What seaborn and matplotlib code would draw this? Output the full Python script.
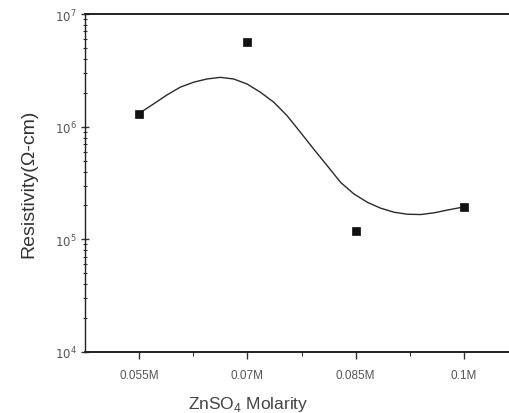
import matplotlib
matplotlib.use("Agg")
import matplotlib.pyplot as plt
import matplotlib.ticker as mticker
import numpy as np
import pandas as pd
import seaborn as sns

# Measured resistivity for each zinc sulfate concentration
molarity = [0.055, 0.07, 0.085, 0.1]
tick_labels = ["0.055M", "0.07M", "0.085M", "0.1M"]
resistivity = [1.30e6, 5.65e6, 1.19e5, 1.94e5]

# Smoothed trend line through the measurements
trend_x = [0.05500, 0.05560, 0.05699, 0.05885, 0.06069, 0.06254, 0.06440,
           0.06625, 0.06810, 0.06996, 0.07181, 0.07365, 0.07551, 0.07736,
           0.07921, 0.08107, 0.08292, 0.08476, 0.08663, 0.08847, 0.09032,
           0.09218, 0.09403, 0.09588, 0.09774, 0.10000]
trend_y = [1.30e6, 1.39e6, 1.59e6, 1.91e6, 2.24e6, 2.48e6, 2.65e6,
           2.74e6, 2.65e6, 2.39e6, 2.02e6, 1.65e6, 1.25e6, 8.9e5,
           6.3e5, 4.5e5, 3.2e5, 2.53e5, 2.13e5, 1.89e5, 1.74e5,
           1.67e5, 1.66e5, 1.72e5, 1.82e5, 1.94e5]

points = pd.DataFrame({"molarity": molarity, "resistivity": resistivity})
trend = pd.DataFrame({"molarity": trend_x, "resistivity": trend_y})

sns.set_theme(style="ticks")
plt.rcParams["font.family"] = ["Liberation Sans", "DejaVu Sans"]

W, H = 510, 414
fig = plt.figure(figsize=(W / 100, H / 100), dpi=100)
ax = fig.add_axes([85 / W, 1 - 353 / H, (510 - 85) / W, (353 - 15) / H])

sns.lineplot(data=trend, x="molarity", y="resistivity", sort=False,
             color="#2a2a2a", linewidth=1.0, ax=ax)
sns.scatterplot(data=points, x="molarity", y="resistivity", marker="s",
                color="#111111", s=32, edgecolor="#111111", linewidth=0.5,
                ax=ax, zorder=3)

ax.set_yscale("log")
ax.set_ylim(1e4, 1e7)
ax.set_xlim(0.0475, 0.10639)

ax.set_xticks(molarity)
ax.set_xticklabels(tick_labels)
ax.xaxis.set_minor_locator(mticker.FixedLocator([0.0625, 0.0775, 0.0925]))
ax.yaxis.set_major_locator(mticker.FixedLocator([1e4, 1e5, 1e6, 1e7]))
ax.set_yticklabels([r"$10^{4}$", r"$10^{5}$", r"$10^{6}$", r"$10^{7}$"])
ax.yaxis.set_minor_locator(mticker.LogLocator(base=10, subs=np.arange(2, 10)))
ax.yaxis.set_minor_formatter(mticker.NullFormatter())

ax.tick_params(axis="x", which="major", direction="out", length=5, width=1.0,
               colors="#333333", labelcolor="#555555", labelsize=8.5, pad=7)
ax.tick_params(axis="x", which="minor", direction="out", length=3, width=0.8,
               colors="#333333")
ax.tick_params(axis="y", which="major", direction="inout", length=6, width=1.0,
               colors="#333333", labelcolor="#555555", labelsize=8.5, pad=3)
ax.tick_params(axis="y", which="minor", direction="inout", length=3, width=0.8,
               colors="#333333")

for side in ("left", "bottom", "top"):
    ax.spines[side].set_visible(True)
    ax.spines[side].set_color("#222222")
ax.spines["left"].set_linewidth(1.0)
ax.spines["bottom"].set_linewidth(1.4)
ax.spines["top"].set_linewidth(1.4)
ax.spines["right"].set_visible(False)

ax.set_xlabel("")
ax.set_ylabel("")
fig.text(29 / W, 1 - 184 / H, "Resistivity(Ω-cm)", rotation=90,
         ha="center", va="center", fontsize=14, color="#333333")
fig.text(248 / W, 1 - 405 / H, r"ZnSO$_{\mathregular{4}}$ Molarity",
         ha="center", va="center", fontsize=12.5, color="#444444")

fig.savefig("out.png", dpi=100)
